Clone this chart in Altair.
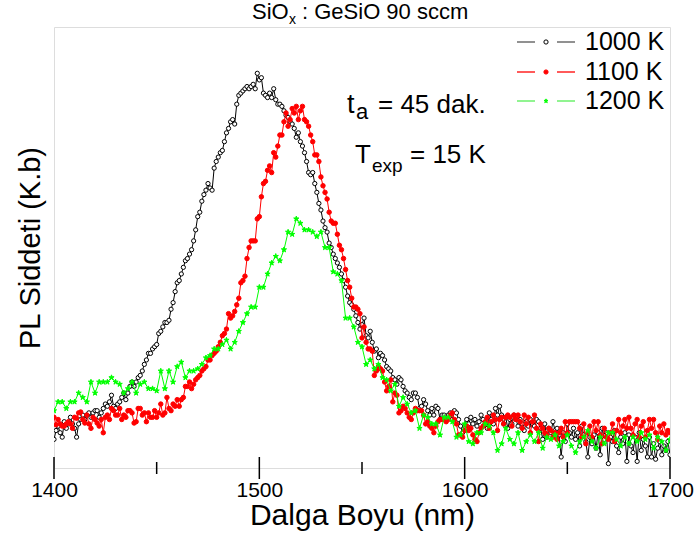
import altair as alt
import pandas as pd

# ---------------- data ----------------
wl_1nm = list(range(1400, 1701))          # black / red sampling grid (nm)
wl_2nm = list(range(1400, 1701, 2))       # green sampling grid (nm)

black_1000K = [
    6.5, 8.5, 9.5, 8, 7, 10.5, 9, 10, 11.5, 10,
    9, 7, 10, 11, 12, 11, 12, 12.5, 11.5, 12.5,
    13, 13, 11.5, 12.5, 13.5, 14.5, 14, 15, 16.5, 14,
    13.5, 14.5, 15, 16, 17, 15.5, 17, 18.5, 19.5, 18.5,
    19.5, 20.5, 21, 22, 23.5, 24.5, 26, 26, 27, 27.5,
    28, 30.5, 31, 32, 33, 33, 33.5, 36, 37.5, 40,
    42, 42.5, 44, 45.5, 47, 47.5, 48.5, 49.5, 51.5, 54,
    57, 58, 60.5, 62, 63, 64.5, 63.5, 63, 68, 69.5,
    70.5, 71.5, 72, 74, 76, 77, 78.5, 79, 78, 82.5,
    84.5, 85, 85.5, 86, 86.5, 86, 86.5, 87, 86, 89.5,
    88, 88.5, 85, 84.5, 84, 85, 84, 86, 83.5, 82.5,
    82.5, 82, 81, 80, 79.5, 78.5, 78, 77, 75, 76,
    74, 73, 71.5, 69.5, 67, 66.5, 67, 64.5, 62.5, 60,
    58.5, 56, 54.5, 53.5, 51, 50, 48.5, 47.5, 46.5, 45.5,
    44, 42.5, 41, 39, 37.5, 37, 36, 34.5, 33, 31.5,
    32.5, 34, 30, 29.5, 31, 28.5, 26.5, 27, 25, 26,
    25.5, 24.5, 23, 22.5, 22, 20.5, 20, 19, 20.5, 20,
    18.5, 17.5, 17, 16, 15.5, 17, 17, 16, 13.5, 14,
    15.5, 14.5, 13, 12, 13.5, 12, 14, 13.5, 11, 12,
    12, 11, 12, 12.5, 11, 13, 12.5, 11, 9.5, 8,
    9.5, 11, 10, 11.5, 10, 11, 9.5, 10.5, 12, 11,
    10, 9, 12.5, 11, 10, 13.5, 12, 14, 12, 10,
    11.5, 9, 11, 10, 12, 11, 9.5, 11, 10, 8.5,
    10.5, 9.5, 11, 10, 9.5, 11, 10.5, 9, 6.5, 10,
    7, 9, 8, 10.5, 8.5, 9, 7.5, 2.5, 8, 6,
    10, 8, 7, 9, 6.5, 8, 5, 9.5, 7.5, 6,
    2.5, 7, 5.5, 7.5, 4.5, 8, 3, 9, 6.5, 8,
    1, 7, 6, 8.5, 5, 3.5, 7, 5.5, 8, 1.5,
    7.5, 5, 3.5, 7, 1.5, 8, 4, 6.5, 5, 2.5,
    7, 2.5, 5.5, 2, 4.5, 6, 3, 5, 4, 6,
    3,
]

red_1100K = [
    11.5, 9.8, 11, 10, 9.5, 9.5, 10, 10.5, 10, 9,
    11.5, 11.3, 12.5, 12.7, 11, 10.2, 12, 10, 9, 11.5,
    11, 10.2, 9.5, 11, 8, 11.5, 12, 11, 13.5, 13,
    12, 12, 13.5, 11, 12, 11.5, 13, 13, 12.5, 10.2,
    10.5, 13.5, 13.5, 12, 12.5, 10.5, 12.5, 11.5, 11.5, 13,
    11.5, 12.5, 14.5, 12, 12.5, 16, 13.5, 13, 14.5, 14,
    15.5, 14, 15.5, 16, 18.5, 18.5, 19.5, 18, 19, 20,
    20.5, 21, 22, 22.5, 23, 24.5, 24.5, 25.5, 26, 26.5,
    27.5, 28.5, 30, 30.5, 31.5, 35, 34, 34.5, 35.5, 37,
    38.5, 42, 42.5, 43.5, 47.5, 50, 51.5, 51.5, 51.5, 56.5,
    57, 61.5, 64.5, 65, 67.5, 68.5, 67, 71.5, 70.5, 73,
    75.5, 75.5, 78.5, 80.5, 77.5, 79, 81.5, 80.5, 82, 79,
    81, 82, 79, 78.5, 77.5, 75.5, 74, 71, 71, 69.5,
    66, 64, 62.5, 61, 58, 56, 55.5, 55.5, 53, 50.5,
    49.5, 47.5, 45, 42.5, 41, 38.5, 36.5, 36.5, 36, 35,
    29.5, 32, 28.5, 27, 27, 26.5, 21, 22, 23, 22.5,
    22, 19.5, 17.5, 18.5, 20, 15, 17, 16.5, 12.5, 13,
    14, 13.5, 12.5, 11.5, 11, 12.5, 13.5, 13, 13, 13,
    12, 10, 10.5, 9.5, 9, 8, 9.5, 10.5, 11, 11,
    11, 10.5, 11, 12, 12.5, 11, 10, 7.5, 7.5, 7,
    8.5, 9.5, 8.5, 9, 7.5, 6.5, 6, 8, 9, 9.5,
    10.5, 11.5, 9, 10.5, 12, 11, 8.5, 11, 11.5, 10,
    11.5, 12, 11.5, 9.5, 12, 11, 12, 10.5, 9, 12,
    10, 11.5, 8, 10.5, 12, 9, 6, 10, 9, 8,
    7.5, 9, 8.5, 7, 8, 6.5, 8, 9, 7, 10.5,
    8, 10.5, 10.5, 10.5, 10.5, 10.5, 9, 7, 10, 5.5,
    8, 9.5, 7, 10.5, 8.5, 10.5, 7.5, 5.5, 9, 7,
    6.5, 8, 10, 6, 8.5, 11, 8, 9.5, 11, 9,
    11.5, 9, 7.5, 10, 11, 7, 9.5, 10.5, 7, 8.5,
    11, 9, 11, 8, 6.5, 9.5, 8, 10, 7.5, 8.5,
    8,
]

green_1200K = [
    13, 15, 15, 13.5, 15, 15, 17, 16, 15, 19.5,
    17, 19.5, 19.5, 19.5, 20.5, 19.5, 19, 17, 18, 19.5,
    17, 19, 19.5, 18, 18, 17.5, 22, 18, 22, 19.5,
    23, 24, 20.5, 22, 22, 22.5, 23.5, 25, 25.5, 27,
    27, 28, 29, 27, 28.5, 31, 33, 35, 36.5, 36.5,
    41, 41, 44, 46.5, 48, 47, 49.5, 53.5, 53, 56.5,
    55.5, 54, 54, 53.5, 52.5, 53.5, 50, 50, 44.5, 44,
    42.5, 34, 34, 32, 28.5, 27.5, 23.5, 24.5, 22.5, 23.5,
    20.5, 20, 17.5, 19, 14, 16, 14.5, 12.5, 13, 9,
    12, 11.5, 10, 10, 7.5, 11.5, 11.5, 10.5, 7, 7.5,
    10, 6, 5.5, 8, 8, 10, 9.5, 8, 4, 5.5,
    9, 6.5, 5.5, 8, 4, 6, 7.5, 6, 8, 4.5,
    7, 6.5, 7.5, 5, 6, 7.5, 5, 3.5, 6, 7,
    8.5, 6, 4.5, 7, 5.5, 8, 8, 6.5, 5, 7,
    5.5, 7, 6, 8, 6.5, 7.5, 4.5, 7, 6, 4,
    6.5,
]

assert len(black_1000K) == len(wl_1nm), len(black_1000K)
assert len(red_1100K) == len(wl_1nm), len(red_1100K)
assert len(green_1200K) == len(wl_2nm), len(green_1200K)

x_ticks_major = [1400, 1500, 1600, 1700]
x_ticks_minor = [1450, 1550, 1650]
legend_labels = ["1000 K", "1100 K", "1200 K"]

# ---------------- layout ----------------
W, H = 616, 441
FONT = "Liberation Sans"
STAR = "M0,-1L0.22,-0.31L0.95,-0.31L0.36,0.12L0.59,0.81L0,0.38L-0.59,0.81L-0.36,0.12L-0.95,-0.31L-0.22,-0.31Z"

x_scale = alt.Scale(domain=[1400, 1700], nice=False, zero=False)
y_scale = alt.Scale(domain=[0, 100], nice=False, zero=False)

x_axis = alt.Axis(values=x_ticks_major, format="d", grid=False, ticks=False, domain=False,
                  labelFont=FONT, labelFontSize=21, labelColor="black", labelPadding=11,
                  labelFlush=False, title="Dalga Boyu (nm)", titleFont=FONT, titleFontSize=30,
                  titleFontWeight="normal", titleColor="black", titlePadding=0)
y_axis = alt.Axis(labels=False, ticks=False, domain=False, grid=False,
                  title="PL Siddeti (K.b)", titleFont=FONT, titleFontSize=29,
                  titleFontWeight="normal", titleColor="black", titlePadding=9)

X = alt.X("nm:Q", scale=x_scale, axis=x_axis)
Y = alt.Y("v:Q", scale=y_scale, axis=y_axis)

df_black = pd.DataFrame({"nm": wl_1nm, "v": black_1000K})
df_red = pd.DataFrame({"nm": wl_1nm, "v": red_1100K})
df_green = pd.DataFrame({"nm": wl_2nm, "v": green_1200K})


def series(df, color, shape, fill, size):
    base = alt.Chart(df).encode(x=X, y=Y)
    line = base.mark_line(color=color, strokeWidth=1, clip=True)
    pts = base.mark_point(shape=shape, filled=False, fill=fill, stroke=color,
                          strokeWidth=1, size=size, opacity=1, clip=True)
    return [line, pts]


layers = []
layers += series(df_black, "#000000", "circle", "#ffffff", 18)
layers += series(df_red, "#ff0000", "circle", "#ff0000", 20)
layers += series(df_green, "#00ff00", STAR, "#00ff00", 30)

# bottom-axis ticks crossing the axis line
df_major = pd.DataFrame({"nm": x_ticks_major})
df_minor = pd.DataFrame({"nm": x_ticks_minor})
layers.append(alt.Chart(df_major).mark_rule(color="black", strokeWidth=1.5).encode(
    x=X, y=alt.value(H - 11), y2=alt.value(H + 11)))
layers.append(alt.Chart(df_minor).mark_rule(color="black", strokeWidth=1.5).encode(
    x=X, y=alt.value(H - 6), y2=alt.value(H + 6)))


def text(t, x, y, size, align="left", baseline="alphabetic"):
    return alt.Chart(pd.DataFrame({"t": [t]})).mark_text(
        font=FONT, fontSize=size, color="black", align=align, baseline=baseline
    ).encode(text="t:N", x=alt.value(x), y=alt.value(y))


# title  SiO_x : GeSiO 90 sccm
layers.append(text("SiO", 198, -8, 22))
layers.append(text("x", 235, -3, 14))
layers.append(text(": GeSiO 90 sccm", 248, -8, 22))

# annotations
layers.append(text("t", 293, 86, 27))
layers.append(text("a", 302, 92, 22))
layers.append(text("= 45 dak.", 324, 86, 26))
layers.append(text("T", 301, 136, 26))
layers.append(text("exp", 318, 145, 19))
layers.append(text("= 15 K", 356, 136, 26))

# legend
leg_colors_line = ["#555555", "#ff0000", "#55ee55"]
leg_colors_pt = ["#000000", "#ff0000", "#00ff00"]
leg_fill = ["#ffffff", "#ff0000", "#00ff00"]
leg_shape = ["circle", "circle", STAR]
leg_y = [15, 45, 74]
for i, lab in enumerate(legend_labels):
    yy = leg_y[i]
    seg = pd.DataFrame({"k": [0]})
    layers.append(alt.Chart(seg).mark_rule(color=leg_colors_line[i], strokeWidth=1.3).encode(
        x=alt.value(463), x2=alt.value(481), y=alt.value(yy)))
    layers.append(alt.Chart(seg).mark_rule(color=leg_colors_line[i], strokeWidth=1.3).encode(
        x=alt.value(503), x2=alt.value(521), y=alt.value(yy)))
    layers.append(alt.Chart(seg).mark_point(shape=leg_shape[i], fill=leg_fill[i],
                                            stroke=leg_colors_pt[i], strokeWidth=1,
                                            size=18, opacity=1).encode(
        x=alt.value(492), y=alt.value(yy)))
    layers.append(text(lab, 531, yy, 25, baseline="middle"))

chart = alt.layer(*layers).properties(
    width=W, height=H,
    padding={"left": 54, "top": 27, "right": 29, "bottom": 75},
    autosize=alt.AutoSizeParams(type="none"),
).configure_view(stroke="black", strokeWidth=2).configure(font=FONT, background="white")

chart.save("out.html", embed_options={"renderer": "svg", "actions": False})
